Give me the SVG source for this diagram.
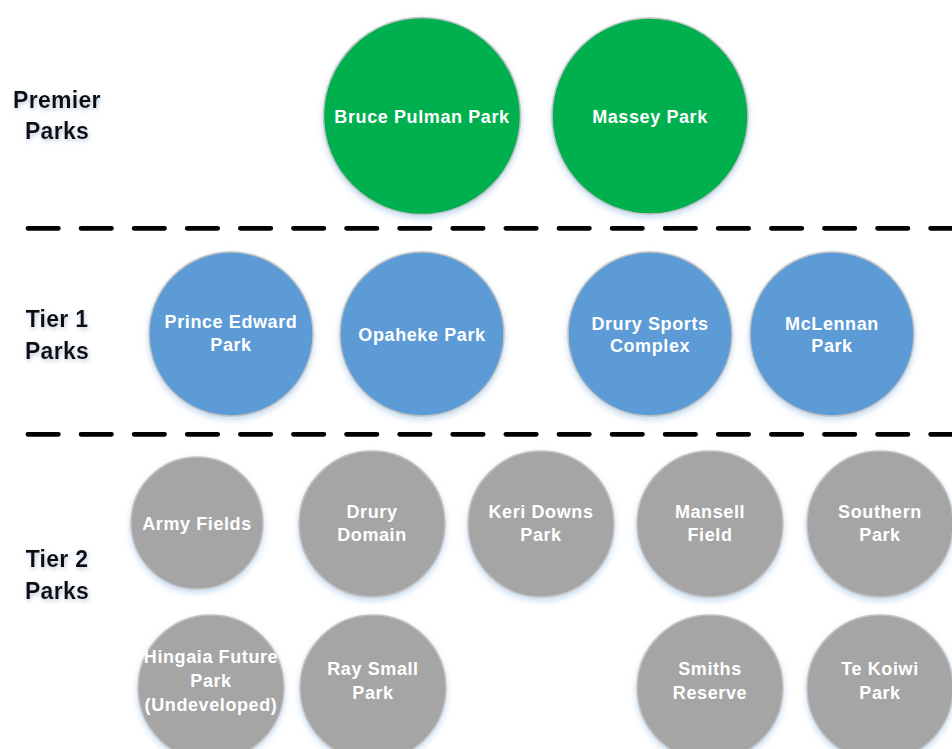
<svg xmlns="http://www.w3.org/2000/svg" width="952" height="749" viewBox="0 0 952 749">
<defs>
<filter id="sh" x="-20%" y="-20%" width="140%" height="150%">
<feDropShadow dx="0" dy="3" stdDeviation="3" flood-color="#9dc3e6" flood-opacity="0.6"/>
</filter>
<filter id="tsh" x="-20%" y="-30%" width="140%" height="160%">
<feDropShadow dx="1" dy="2" stdDeviation="2" flood-color="#8fa7c8" flood-opacity="0.6"/>
</filter>
</defs>
<style>
.c{stroke:#c3c3c3;stroke-width:1.5;filter:url(#sh)}
.g{fill:#00b050}
.b{fill:#5b9bd5}
.y{fill:#a5a5a5}
.t{font-family:"Liberation Sans",Arial,sans-serif;font-weight:bold;font-size:18px;fill:#fff;text-anchor:middle;letter-spacing:0.6px}
.l{font-family:"Liberation Sans",Arial,sans-serif;font-weight:bold;font-size:23px;fill:#111;text-anchor:middle;letter-spacing:0.3px;filter:url(#tsh)}
.d{stroke:#000;stroke-width:4.7;stroke-linecap:round;stroke-dasharray:30.5 22.6;fill:none}
</style>
<rect width="952" height="749" fill="#fff"/>
<g id="labels">
<text class="l" x="57" y="108">Premier</text>
<text class="l" x="57" y="139">Parks</text>
<text class="l" x="57" y="327">Tier 1</text>
<text class="l" x="57" y="359">Parks</text>
<text class="l" x="57" y="567">Tier 2</text>
<text class="l" x="57" y="599">Parks</text>
</g>
<g id="connectors">
<line class="d" x1="27.9" y1="228.3" x2="970" y2="228.3"/>
<line class="d" x1="27.9" y1="434.3" x2="970" y2="434.3"/>
</g>
<g id="bruce-pulman"><circle class="c g" cx="422" cy="116" r="98.5"/><text class="t" x="422" y="123">Bruce Pulman Park</text></g>
<g id="massey"><circle class="c g" cx="650" cy="116" r="98"/><text class="t" x="650" y="123">Massey Park</text></g>
<g id="prince-edward"><circle class="c b" cx="231" cy="334" r="82"/><text class="t" x="231" y="328">Prince Edward</text><text class="t" x="231" y="351">Park</text></g>
<g id="opaheke"><circle class="c b" cx="422" cy="334" r="82"/><text class="t" x="422" y="341">Opaheke Park</text></g>
<g id="drury-sports"><circle class="c b" cx="650" cy="334" r="82"/><text class="t" x="650" y="330">Drury Sports</text><text class="t" x="650" y="352">Complex</text></g>
<g id="mclennan"><circle class="c b" cx="832" cy="334" r="82"/><text class="t" x="832" y="330">McLennan</text><text class="t" x="832" y="352">Park</text></g>
<g id="army-fields"><circle class="c y" cx="197" cy="523" r="66"/><text class="t" x="197" y="530">Army Fields</text></g>
<g id="drury-domain"><circle class="c y" cx="372" cy="524" r="73"/><text class="t" x="372" y="518">Drury</text><text class="t" x="372" y="541">Domain</text></g>
<g id="keri-downs"><circle class="c y" cx="541" cy="524" r="73"/><text class="t" x="541" y="518">Keri Downs</text><text class="t" x="541" y="541">Park</text></g>
<g id="mansell"><circle class="c y" cx="710" cy="524" r="73"/><text class="t" x="710" y="518">Mansell</text><text class="t" x="710" y="541">Field</text></g>
<g id="southern"><circle class="c y" cx="880" cy="524" r="73"/><text class="t" x="880" y="518">Southern</text><text class="t" x="880" y="541">Park</text></g>
<g id="hingaia"><circle class="c y" cx="211" cy="688" r="73"/><text class="t" x="211" y="663">Hingaia Future</text><text class="t" x="211" y="687">Park</text><text class="t" x="211" y="711">(Undeveloped)</text></g>
<g id="ray-small"><circle class="c y" cx="373" cy="688" r="73"/><text class="t" x="373" y="675">Ray Small</text><text class="t" x="373" y="699">Park</text></g>
<g id="smiths"><circle class="c y" cx="710" cy="688" r="73"/><text class="t" x="710" y="675">Smiths</text><text class="t" x="710" y="699">Reserve</text></g>
<g id="te-koiwi"><circle class="c y" cx="880" cy="688" r="73"/><text class="t" x="880" y="675">Te Koiwi</text><text class="t" x="880" y="699">Park</text></g>
</svg>
